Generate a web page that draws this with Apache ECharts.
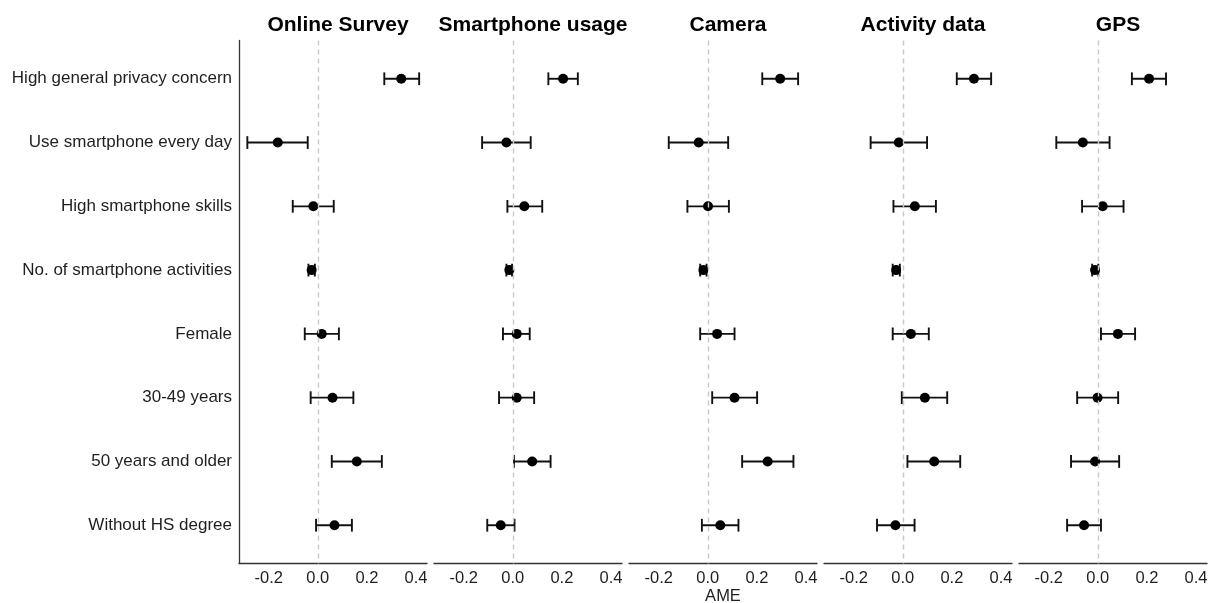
<!DOCTYPE html>
<html>
<head>
<meta charset="utf-8">
<script src="https://cdn.jsdelivr.net/npm/echarts@6/dist/echarts.min.js"></script>
<style>
  html, body { margin: 0; padding: 0; background: #ffffff; }
  #chart { width: 1208px; height: 603px; }
</style>
</head>
<body>
<div id="chart"></div>
<script>
// Predictors (rows, top to bottom) and data sources (panels, left to right)
const categories = [
  'High general privacy concern',
  'Use smartphone every day',
  'High smartphone skills',
  'No. of smartphone activities',
  'Female',
  '30-49 years',
  '50 years and older',
  'Without HS degree'
];
const panelNames = ['Online Survey', 'Smartphone usage', 'Camera', 'Activity data', 'GPS'];
const xTicks = [-0.2, 0.0, 0.2, 0.4];
const xAxisTitle = 'AME';

// Average marginal effects with lower / upper confidence bounds, one set per panel
const onlineSurveyAME  = [0.340, -0.163, -0.018, -0.025, 0.016, 0.060, 0.159, 0.068];
const onlineSurveyLow  = [0.271, -0.287, -0.102, -0.038, -0.053, -0.029, 0.057, -0.007];
const onlineSurveyHigh = [0.413, -0.041, 0.065, -0.012, 0.086, 0.145, 0.261, 0.139];

const smartphoneAME  = [0.205, -0.026, 0.047, -0.014, 0.016, 0.016, 0.079, -0.049];
const smartphoneLow  = [0.145, -0.125, -0.022, -0.026, -0.040, -0.056, 0.005, -0.104];
const smartphoneHigh = [0.265, 0.073, 0.120, -0.003, 0.069, 0.087, 0.154, 0.007];

const cameraAME  = [0.295, -0.037, 0.001, -0.018, 0.038, 0.109, 0.244, 0.051];
const cameraLow  = [0.222, -0.159, -0.083, -0.031, -0.031, 0.018, 0.140, -0.024];
const cameraHigh = [0.368, 0.083, 0.086, -0.005, 0.109, 0.201, 0.349, 0.125];

const activityAME  = [0.290, -0.016, 0.049, -0.027, 0.033, 0.090, 0.128, -0.030];
const activityLow  = [0.220, -0.131, -0.038, -0.041, -0.041, -0.004, 0.019, -0.105];
const activityHigh = [0.360, 0.099, 0.135, -0.012, 0.106, 0.181, 0.234, 0.048];

const gpsAME  = [0.209, -0.061, 0.020, -0.011, 0.082, -0.001, -0.011, -0.056];
const gpsLow  = [0.139, -0.169, -0.064, -0.023, 0.013, -0.084, -0.109, -0.125];
const gpsHigh = [0.278, 0.048, 0.105, 0.002, 0.152, 0.083, 0.087, 0.013];

const panelData = [
  [onlineSurveyAME, onlineSurveyLow, onlineSurveyHigh],
  [smartphoneAME, smartphoneLow, smartphoneHigh],
  [cameraAME, cameraLow, cameraHigh],
  [activityAME, activityLow, activityHigh],
  [gpsAME, gpsLow, gpsHigh]
];

// Layout and style
const FONT = '"Liberation Sans", Arial, Helvetica, sans-serif';
const PANEL_LEFT = 239, PANEL_STEP = 195, PANEL_WIDTH = 188;
const PANEL_TOP = 40.5, PANEL_HEIGHT = 523;
const X_MIN = -0.321, X_MAX = 0.445;
const Y_PAD = 0.6;          // discrete axis expansion above first / below last row
const CAP_WIDTH = 0.2;      // error-bar cap height in row units
const AXIS_COLOR = '#333333';
const TEXT_COLOR = '#1f1f1f';

const grids = [], xAxes = [], yAxes = [], titles = [], series = [];

panelNames.forEach((name, i) => {
  const left = PANEL_LEFT + PANEL_STEP * i;
  const [ame, low, high] = panelData[i];

  grids.push({
    left: left, top: PANEL_TOP, width: PANEL_WIDTH, height: PANEL_HEIGHT,
    containLabel: false, outerBoundsMode: 'none'
  });

  xAxes.push({
    type: 'value', gridIndex: i, min: X_MIN, max: X_MAX,
    splitLine: { show: false },
    axisTick: { show: false },
    axisLine: { show: true, onZero: false, lineStyle: { color: AXIS_COLOR, width: 1.3 } },
    axisLabel: {
      customValues: xTicks,
      formatter: v => Number(v).toFixed(1),
      fontFamily: FONT, fontSize: 16.5, color: TEXT_COLOR, margin: 6
    },
    name: i === 2 ? xAxisTitle : '',
    nameLocation: 'middle', nameGap: 33, nameMoveOverlap: false,
    nameTextStyle: { fontFamily: FONT, fontSize: 16.5, color: TEXT_COLOR, verticalAlign: 'middle' }
  });

  yAxes.push({
    type: 'value', gridIndex: i, inverse: true,
    min: -Y_PAD, max: categories.length - 1 + Y_PAD,
    splitLine: { show: false },
    axisTick: { show: false },
    axisLine: { show: i === 0, onZero: false, lineStyle: { color: AXIS_COLOR, width: 1.3 } },
    axisLabel: {
      show: i === 0,
      customValues: categories.map((_, k) => k),
      formatter: v => categories[Math.round(v)] || '',
      fontFamily: FONT, fontSize: 17, color: TEXT_COLOR, margin: 7
    }
  });

  titles.push({
    text: name, left: left + PANEL_WIDTH / 2, top: 10, textAlign: 'center',
    textStyle: { fontFamily: FONT, fontSize: 21, fontWeight: 'bold', color: '#000000' }
  });

  // dashed reference line at zero
  series.push({
    type: 'scatter', xAxisIndex: i, yAxisIndex: i, data: [], z: 1, silent: true,
    markLine: {
      silent: true, symbol: ['none', 'none'], label: { show: false },
      lineStyle: { color: '#c9c9c9', type: [5, 4], width: 1.4 },
      data: [{ xAxis: 0 }]
    }
  });

  // confidence intervals as capped horizontal error bars
  series.push({
    type: 'custom', xAxisIndex: i, yAxisIndex: i, z: 2,
    data: categories.map((_, k) => [low[k], high[k], k]),
    encode: { x: [0, 1], y: 2 },
    renderItem: (params, api) => {
      const row = api.value(2);
      const a = api.coord([api.value(0), row]);
      const b = api.coord([api.value(1), row]);
      const half = api.size([0, CAP_WIDTH])[1] / 2;
      const style = { stroke: '#111111', lineWidth: 1.9, fill: null };
      return {
        type: 'group',
        children: [
          { type: 'line', shape: { x1: a[0], y1: a[1], x2: b[0], y2: b[1] }, style: style },
          { type: 'line', shape: { x1: a[0], y1: a[1] - half, x2: a[0], y2: a[1] + half }, style: style },
          { type: 'line', shape: { x1: b[0], y1: b[1] - half, x2: b[0], y2: b[1] + half }, style: style }
        ]
      };
    }
  });

  // point estimates
  series.push({
    type: 'scatter', xAxisIndex: i, yAxisIndex: i, z: 3,
    symbol: 'circle', symbolSize: 10,
    itemStyle: { color: '#000000', opacity: 1 },
    data: categories.map((_, k) => [ame[k], k])
  });
});

const chart = echarts.init(document.getElementById('chart'), null, { renderer: 'canvas' });
chart.setOption({
  animation: false,
  backgroundColor: '#ffffff',
  title: titles,
  grid: grids,
  xAxis: xAxes,
  yAxis: yAxes,
  series: series
});
</script>
</body>
</html>
